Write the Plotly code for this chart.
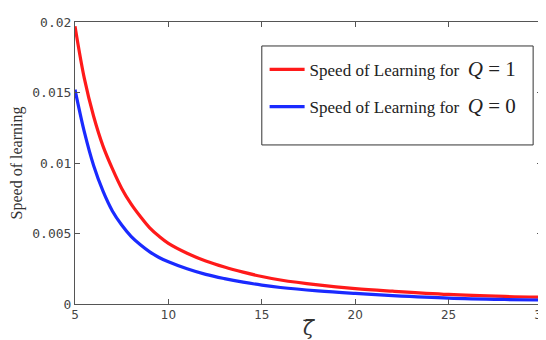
import plotly.graph_objects as go

zeta = [5, 5.5, 6, 6.5, 7, 7.5, 8, 8.5, 9, 9.5, 10, 11, 12, 13, 14, 15, 16, 18, 20, 22,
        25, 28, 30]
speed_q1 = [0.0197, 0.0160, 0.0133, 0.0112, 0.0096, 0.0082, 0.0071, 0.0062, 0.0054, 0.0048,
            0.0043, 0.0036, 0.00305, 0.00262, 0.00226, 0.00195, 0.0017, 0.00135, 0.00109,
            0.00091, 0.00068, 0.00054, 0.00048]
speed_q0 = [0.0152, 0.0122, 0.0098, 0.0080, 0.0066, 0.0056, 0.0048, 0.0042, 0.0037, 0.0033,
            0.0030, 0.0025, 0.0021, 0.0018, 0.00155, 0.00134, 0.00117, 0.00093, 0.00075,
            0.00060, 0.00042, 0.00032, 0.00028]

x_ticks = [5, 10, 15, 20, 25, 30]
y_ticks = [0, 0.005, 0.01, 0.015, 0.02]
y_tick_labels = ["0", "0.005", "0.01", "0.015", "0.02"]

label_q1 = "Speed of Learning for  <span style='font-size:21px'><i>Q</i> = 1</span>"
label_q0 = "Speed of Learning for  <span style='font-size:21px'><i>Q</i> = 0</span>"

fig = go.Figure()
fig.add_trace(go.Scatter(x=zeta, y=speed_q1, mode="lines", name=label_q1,
                         line=dict(color="#ff1a1a", width=3.2, shape="spline", smoothing=1.0),
                         legendgroup="a"))
fig.add_trace(go.Scatter(x=zeta, y=speed_q0, mode="lines", name=label_q0,
                         line=dict(color="#1a2aff", width=3.2, shape="spline", smoothing=1.0),
                         legendgroup="b"))

axis_common = dict(showgrid=False, zeroline=False, showline=True, linecolor="#555555",
                   linewidth=1, mirror="ticks", ticks="inside", tickcolor="#555555",
                   ticklen=5)

fig.update_layout(
    width=546, height=340,
    margin=dict(l=67, r=4, t=14, b=44),
    paper_bgcolor="white", plot_bgcolor="white",
    xaxis=dict(range=[5, 30], tickvals=x_ticks, ticktext=[str(v) for v in x_ticks],
               tickfont=dict(family="DejaVu Sans", size=12, color="#444444"),
               ticklabeloverflow="allow",
               **axis_common),
    yaxis=dict(range=[0, 0.02], tickvals=y_ticks, ticktext=y_tick_labels,
               tickfont=dict(family="DejaVu Sans Mono", size=13, color="#444444"),
               title=dict(text="Speed of learning",
                          font=dict(family="Liberation Serif", size=16, color="#333333"),
                          standoff=6),
               **axis_common),
    showlegend=True,
    legend=dict(x=0.406, y=0.894, xanchor="left", yanchor="top",
                bgcolor="rgba(0,0,0,0)", borderwidth=0,
                font=dict(family="Liberation Serif", size=17, color="#222222"),
                tracegroupgap=12, itemwidth=35),
    shapes=[dict(type="rect", xref="paper", yref="paper", x0=0.4, x1=0.981,
                 y0=0.564, y1=0.915, line=dict(color="#333333", width=1),
                 fillcolor="white", layer="above"),
            dict(type="line", xref="paper", yref="paper", x0=0.489, x1=0.513,
                 y0=-0.058, y1=-0.058, line=dict(color="#333333", width=1.3))],
    annotations=[dict(text="<i>ζ</i>", xref="paper", yref="paper", x=0.5, y=-0.085,
                      xanchor="center", yanchor="middle", showarrow=False,
                      font=dict(family="DejaVu Serif", size=20, color="#333333"))],
)

fig.write_html("out.html")
